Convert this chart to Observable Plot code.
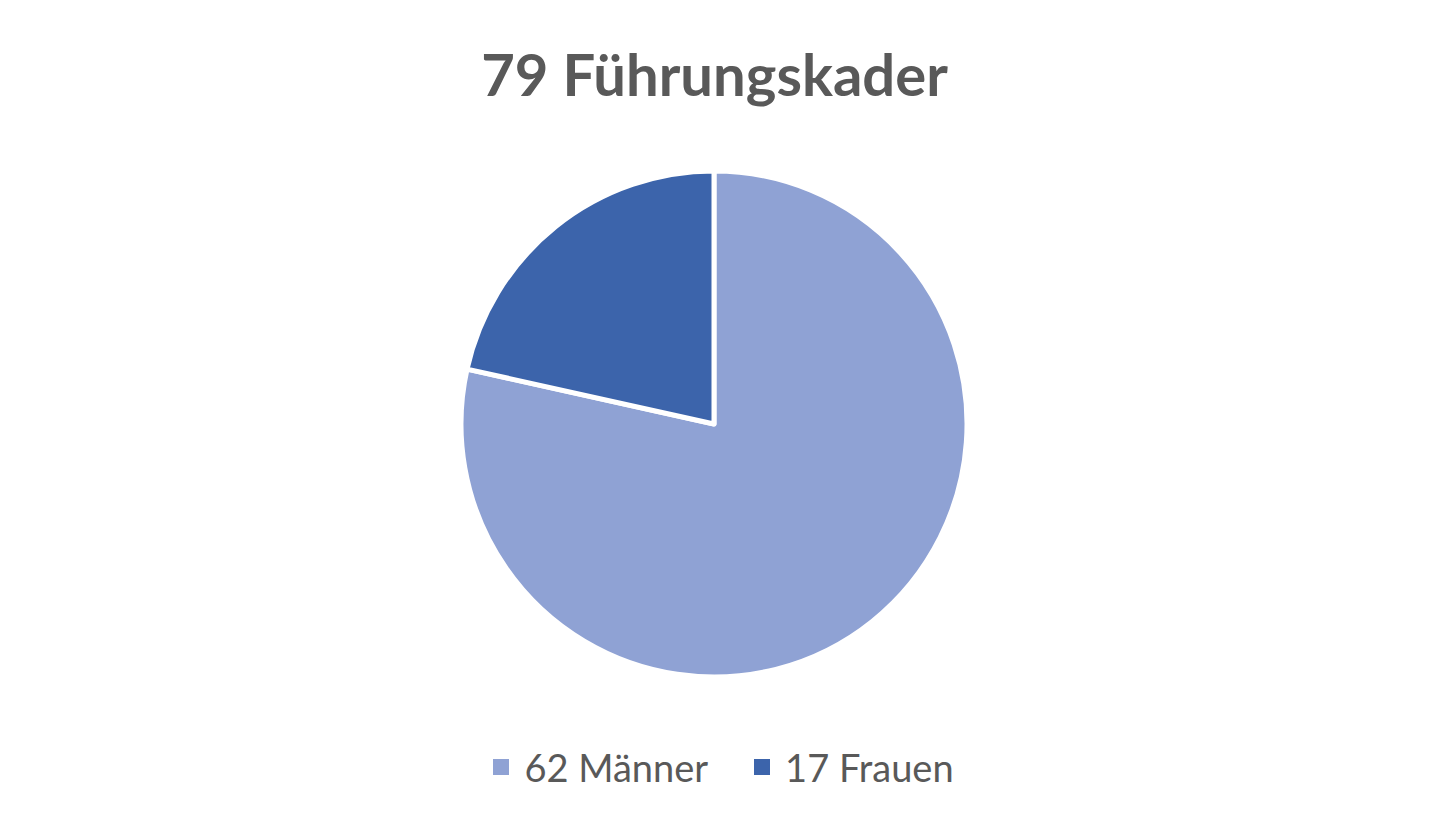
<!DOCTYPE html>
<html>
<head>
<meta charset="utf-8">
<script src="https://cdn.jsdelivr.net/npm/d3@7"></script>
<script src="https://cdn.jsdelivr.net/npm/@observablehq/plot@0.6"></script>
<style>
  html, body { margin: 0; padding: 0; background: #fff; width: 1429px; height: 833px; overflow: hidden; }
  #title { height: 140px; display: flex; align-items: center; justify-content: center;
           font-family: Lato, "Open Sans", sans-serif; font-weight: 700; font-size: 58px; color: #595959; padding-top: 6px; padding-left: 0px; box-sizing: border-box; }
  #chart { height: 560px; }
  #legend { height: 133px; display: flex; justify-content: center; align-items: center; gap: 46px;
            font-family: Lato, "Open Sans", sans-serif; font-size: 38px; color: #595959; padding-left: 18px; box-sizing: border-box; }
  .item { display: flex; align-items: center; }
  .sw { width: 16px; height: 16px; margin-right: 15px; }
</style>
</head>
<body>
<div id="title"></div>
<div id="chart"></div>
<div id="legend"></div>
<script>
const titleText = "79 Führungskader";
const categories = ["62 Männer", "17 Frauen"];
const values = [62, 17];
const colors = ["#8FA2D4", "#3C64AB"];

const data = categories.map((c, i) => ({category: c, value: values[i]}));

document.getElementById("title").textContent = titleText;

const W = 1429, H = 560, R = 253, CX = 714, CY = 284;

const pieMark = (index, scales, vals, dimensions, context) => {
  const cx = scales.x(0), cy = scales.y(0);
  const r = scales.x(1) - scales.x(0);
  const arcs = d3.pie().sort(null).value(d => d.value)(data);
  const arc = d3.arc().innerRadius(0).outerRadius(r);
  const g = d3.create("svg:g").attr("transform", `translate(${cx},${cy})`);
  g.selectAll("path").data(arcs).join("path")
    .attr("d", arc)
    .attr("fill", d => scales.color(d.data.category))
    .attr("stroke", "#fff")
    .attr("stroke-width", 5)
    .attr("stroke-linejoin", "round");
  return g.node();
};

const plot = Plot.plot({
  width: W,
  height: H,
  margin: 0,
  x: {domain: [-1, 1], range: [CX - R, CX + R], axis: null},
  y: {domain: [-1, 1], range: [CY + R, CY - R], axis: null},
  color: {domain: categories, range: colors},
  marks: [
    Plot.dot(data, {x: () => 0, y: () => 0, fill: "category", r: 0}),
    pieMark
  ]
});
document.getElementById("chart").appendChild(plot);

const legend = d3.select("#legend");
categories.forEach((c, i) => {
  const it = legend.append("div").attr("class", "item");
  it.append("div").attr("class", "sw").style("background", colors[i]);
  it.append("span").text(c);
});
</script>
</body>
</html>
